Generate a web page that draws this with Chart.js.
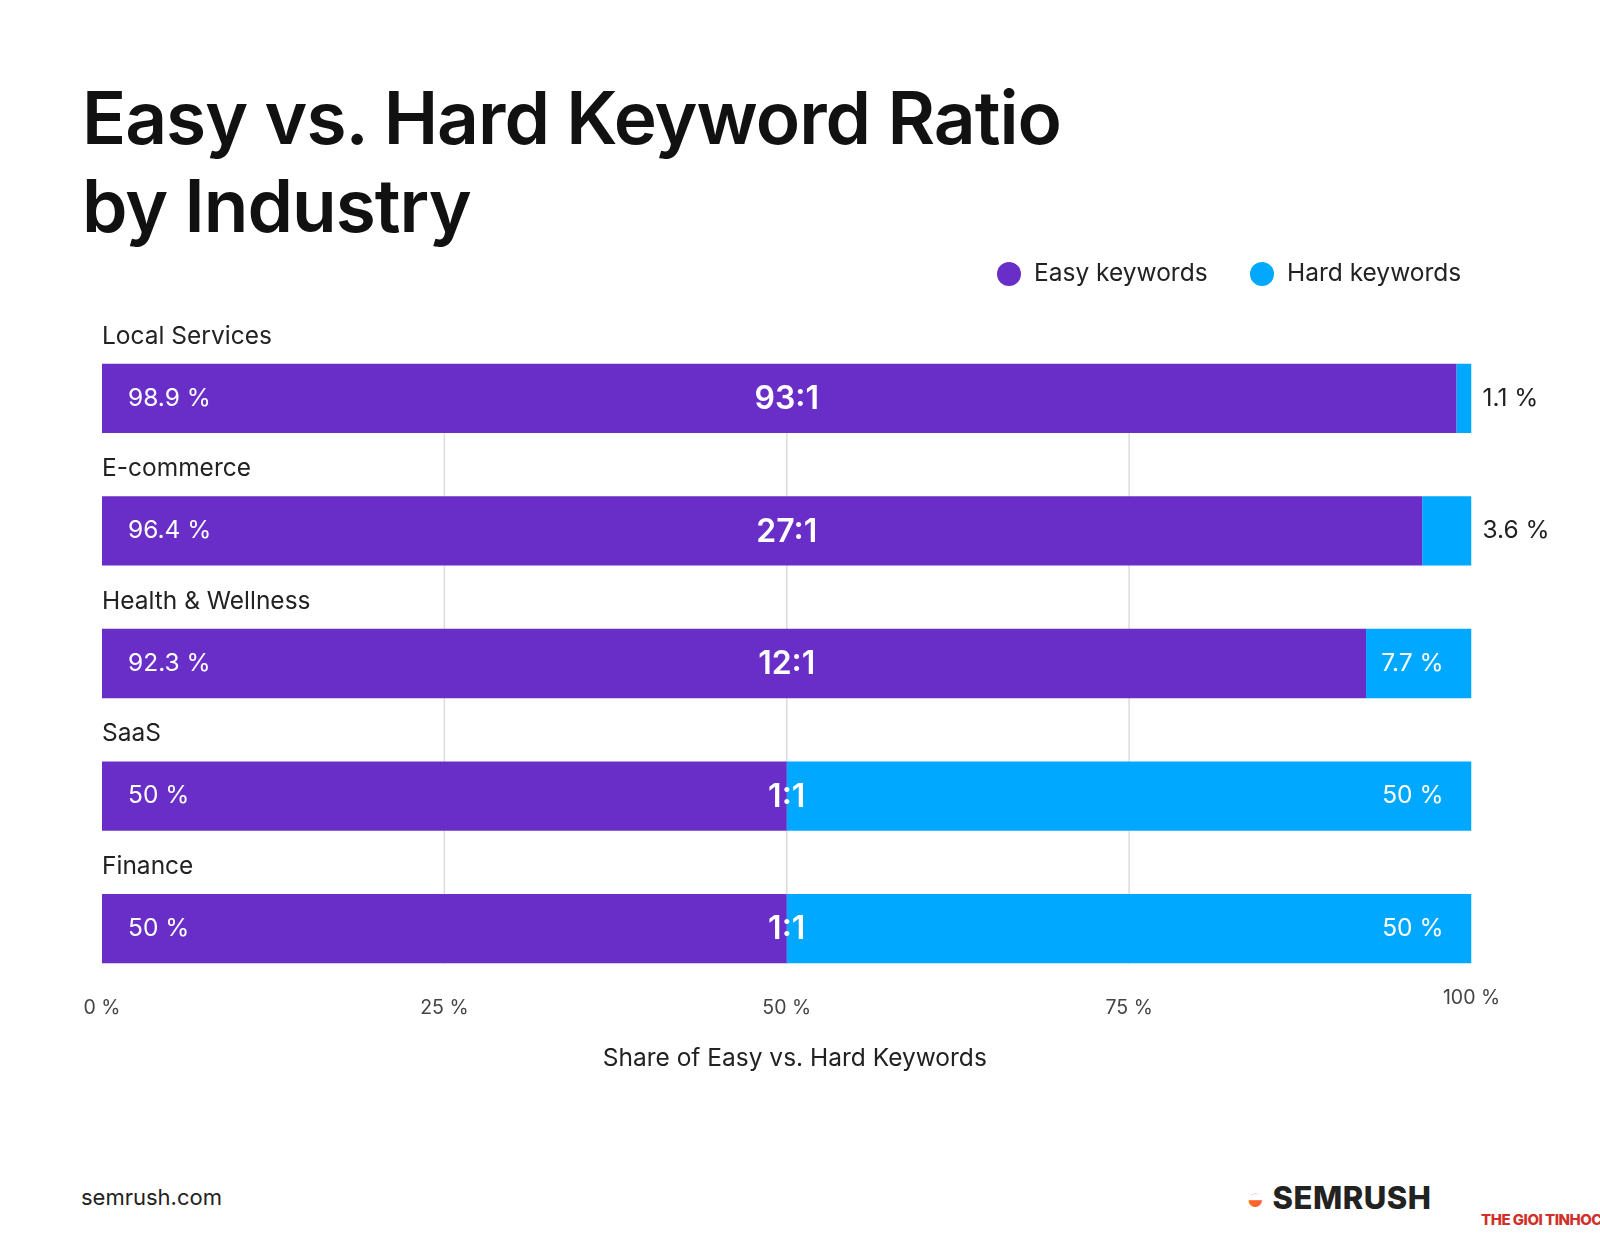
<!DOCTYPE html>
<html><head><meta charset="utf-8">
<script src="https://cdn.jsdelivr.net/npm/chart.js@4"></script>
<style>
body{margin:0;background:#fff;font-family:Inter,"Open Sans",sans-serif;}
#wrap{position:relative;width:1600px;height:1238px;overflow:hidden;}
canvas{position:absolute;left:0;top:0;}
.t{position:absolute;color:#111;white-space:nowrap;}
</style></head><body>
<div id="wrap">
<div class="t" style="left:82px;top:74px;font-size:73px;font-weight:600;line-height:88px;letter-spacing:-1px;">Easy vs. Hard Keyword Ratio<br>by Industry</div>
<div class="t" style="left:81px;top:1184px;font-size:22px;color:#222;">semrush.com</div>
<div class="t" style="left:1246px;top:1179px;font-size:31px;font-weight:800;color:#222;letter-spacing:0.5px;"><span style="color:#FF642D;">&#x25D2;</span> SEMRUSH</div>
<div class="t" style="left:1481px;top:1210px;font-size:15px;font-weight:800;color:#d0302a;letter-spacing:-0.5px;">THE GIOI TINHOC</div>
<canvas id="c" width="1600" height="1238"></canvas>
</div>
<script>
const categories=["Local Services","E-commerce","Health & Wellness","SaaS","Finance"];
const easyShare=[98.9,96.4,92.3,50,50];
const hardShare=[1.1,3.6,7.7,50,50];
const ratios=["93:1","27:1","12:1","1:1","1:1"];
const tickValues=[0,25,50,75,100];
const tickLabels=["0 %","25 %","50 %","75 %","100 %"];
const PURPLE="#6A2EC8",BLUE="#00A8FF",FONT="Inter, 'Open Sans', sans-serif";

const deco={id:'deco',
beforeDatasetsDraw(ch){
  const {ctx,scales:{x,y}}=ch;
  ctx.save();ctx.strokeStyle="#dcdcdc";ctx.lineWidth=1.5;
  [25,50,75].forEach(v=>{const px=x.getPixelForValue(v);ctx.beginPath();ctx.moveTo(px,y.getPixelForValue(0)+35);ctx.lineTo(px,y.getPixelForValue(4)+35);ctx.stroke();});
  ctx.restore();
},
afterDatasetsDraw(ch){
  const {ctx,scales:{x,y}}=ch;
  ctx.save();ctx.textBaseline="middle";
  categories.forEach((c,i)=>{
    const cy=y.getPixelForValue(i);
    ctx.fillStyle="#222";ctx.font="400 24.5px "+FONT;ctx.textAlign="left";
    ctx.fillText(c,x.getPixelForValue(0),cy-62);
    ctx.fillStyle="#fff";
    ctx.fillText(easyShare[i]+" %",x.getPixelForValue(0)+26,cy);
    const w=x.getPixelForValue(hardShare[i])-x.getPixelForValue(0);
    if(w>60){ctx.textAlign="right";ctx.fillText(hardShare[i]+" %",x.getPixelForValue(100)-28,cy);}
    else{ctx.fillStyle="#222";ctx.textAlign="left";ctx.fillText(hardShare[i]+" %",x.getPixelForValue(100)+11,cy);}
    ctx.fillStyle="#fff";ctx.textAlign="center";ctx.font="600 32px "+FONT;
    ctx.fillText(ratios[i],x.getPixelForValue(50),cy+1);
  });
  ctx.fillStyle="#444";ctx.font="400 19.5px "+FONT;ctx.textAlign="center";
  tickValues.forEach((v,i)=>ctx.fillText(tickLabels[i],x.getPixelForValue(v),v===100?998:1008));
  ctx.fillStyle="#222";ctx.font="400 24.5px "+FONT;
  ctx.fillText("Share of Easy vs. Hard Keywords",x.getPixelForValue(50)+8,1059);
  ctx.textAlign="left";
  [[1009,PURPLE,"Easy keywords"],[1262,BLUE,"Hard keywords"]].forEach(([lx,col,t])=>{
    ctx.fillStyle=col;ctx.beginPath();ctx.arc(lx,274,12,0,Math.PI*2);ctx.fill();
    ctx.fillStyle="#222";ctx.fillText(t,lx+25,274);
  });
  ctx.restore();
}};

new Chart(document.getElementById('c'),{type:'bar',
data:{labels:categories,datasets:[
 {label:"Easy keywords",data:easyShare,backgroundColor:PURPLE},
 {label:"Hard keywords",data:hardShare,backgroundColor:BLUE}]},
options:{indexAxis:'y',responsive:false,animation:false,
 layout:{padding:{left:102,right:128.5,top:332,bottom:243}},
 datasets:{bar:{barPercentage:0.523,categoryPercentage:1}},
 plugins:{legend:{display:false},tooltip:{enabled:false}},
 scales:{x:{stacked:true,min:0,max:100,display:false},y:{stacked:true,display:false}}},
plugins:[deco]});
</script></body></html>
